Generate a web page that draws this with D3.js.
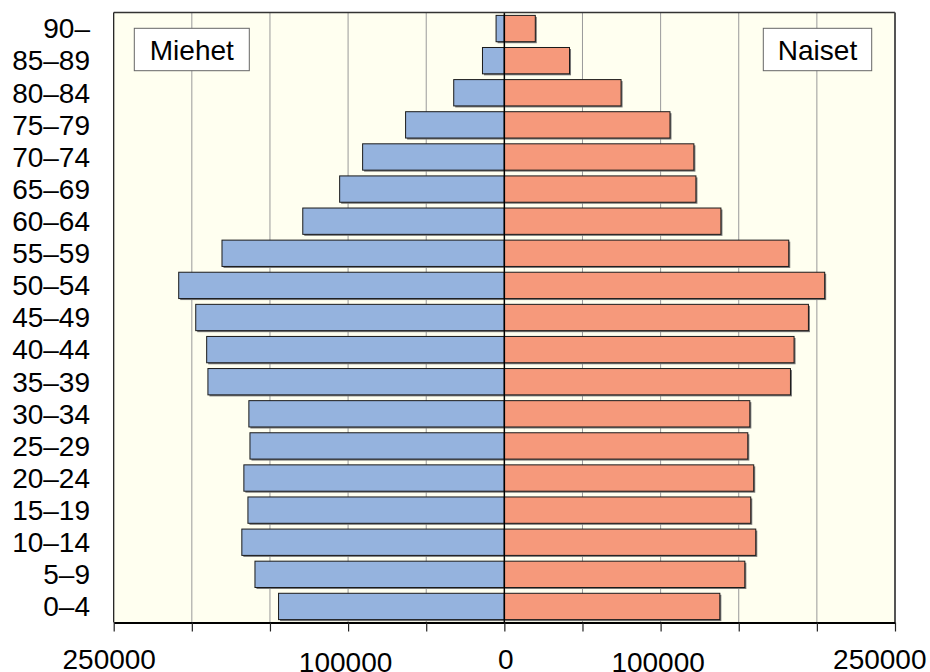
<!DOCTYPE html>
<html>
<head>
<meta charset="utf-8">
<script src="https://cdn.jsdelivr.net/npm/d3@7"></script>
<style>
  html, body { margin: 0; padding: 0; background: #fff; }
  svg { display: block; font-family: "Liberation Sans", Arial, Helvetica, sans-serif; }
</style>
</head>
<body>
<svg id="chart" width="930" height="672"></svg>
<script>
// Data (bottom to top)
const ageGroups = ["0–4","5–9","10–14","15–19","20–24","25–29","30–34","35–39","40–44","45–49","50–54","55–59","60–64","65–69","70–74","75–79","80–84","85–89","90–"];
const males   = [144500,159600,168000,164100,166700,162800,163500,189700,190500,197500,208400,180700,129000,105400,90700,63200,32400,14000,5300];
const females = [137900,153900,160900,157700,159600,155800,157100,183100,185400,194600,205000,182000,138600,122600,121300,106000,74700,41700,19800];
const tickValues = [-250000,-200000,-150000,-100000,-50000,0,50000,100000,150000,200000,250000];
const labeledTicks = [-250000,-100000,0,100000,250000];
const legendLabels = ["Miehet","Naiset"];

(function () {
const pL = 113.7, pR = 895, pT = 12.5, pB = 622.5;
const svg = d3.select("#chart");

const x = d3.scaleLinear().domain([-250000, 250000]).range([pL, pR]);
const y = d3.scaleBand().domain(ageGroups.slice().reverse()).range([pT, pB])
  .paddingInner(0.18).paddingOuter(0.09);

// Background
svg.append("rect").attr("x", pL).attr("y", pT).attr("width", pR - pL).attr("height", pB - pT)
  .attr("fill", "#fffff0");

// Grid lines
svg.append("g").selectAll("line").data(tickValues.filter(v => v !== -250000 && v !== 250000 && v !== 0))
  .join("line")
  .attr("x1", d => x(d)).attr("x2", d => x(d))
  .attr("y1", pT).attr("y2", pB)
  .attr("stroke", "#9a9a9a").attr("stroke-width", 1);

const rows = ageGroups.map((g, i) => ({ g, m: males[i], f: females[i] }));

// Shadows
const shadow = svg.append("g").attr("fill", "#777");
shadow.selectAll("rect.ms").data(rows).join("rect").attr("class", "ms")
  .attr("x", d => x(-d.m) + 1.5).attr("y", d => y(d.g) + 1.5)
  .attr("width", d => x(0) - x(-d.m)).attr("height", y.bandwidth());
shadow.selectAll("rect.fs").data(rows).join("rect").attr("class", "fs")
  .attr("x", d => x(0) + 1.5).attr("y", d => y(d.g) + 1.5)
  .attr("width", d => x(d.f) - x(0)).attr("height", y.bandwidth());

// Bars
svg.append("g").selectAll("rect").data(rows).join("rect")
  .attr("x", d => x(-d.m)).attr("y", d => y(d.g))
  .attr("width", d => x(0) - x(-d.m)).attr("height", y.bandwidth())
  .attr("fill", "#95b3de").attr("stroke", "#1a1a1a").attr("stroke-width", 1);
svg.append("g").selectAll("rect").data(rows).join("rect")
  .attr("x", x(0)).attr("y", d => y(d.g))
  .attr("width", d => x(d.f) - x(0)).attr("height", y.bandwidth())
  .attr("fill", "#f6997b").attr("stroke", "#1a1a1a").attr("stroke-width", 1);

// Center line
svg.append("line").attr("x1", x(0)).attr("x2", x(0)).attr("y1", pT).attr("y2", pB)
  .attr("stroke", "#000").attr("stroke-width", 1.5);

// Frame
svg.append("line").attr("x1", pL).attr("x2", pR).attr("y1", pT).attr("y2", pT).attr("stroke", "#333").attr("stroke-width", 1.5);
svg.append("line").attr("x1", pL).attr("x2", pL).attr("y1", pT).attr("y2", pB).attr("stroke", "#111").attr("stroke-width", 1.2);
svg.append("line").attr("x1", pR).attr("x2", pR).attr("y1", pT).attr("y2", pB).attr("stroke", "#555").attr("stroke-width", 2);

// X axis
const xAxis = d3.axisBottom(x).tickValues(tickValues).tickSize(9).tickSizeOuter(0)
  .tickFormat(d => labeledTicks.includes(d) ? String(Math.abs(d)) : "");
const ax = svg.append("g").attr("transform", `translate(0,${pB})`).call(xAxis);
ax.select(".domain").attr("stroke", "#000").attr("stroke-width", 2);
ax.selectAll(".tick line").attr("stroke", "#222").attr("stroke-width", 1.2);
ax.selectAll(".tick text").attr("font-size", 28).attr("fill", "#000").attr("font-family", null)
  .attr("y", null).attr("dy", null)
  .attr("transform", d => `translate(0,${Math.abs(d) === 100000 ? 49 : 46.5})`)
  .attr("text-anchor", d => d === 250000 ? "end" : "middle")
  .attr("x", d => d === 250000 ? 31 : (d === -250000 ? -5 : (Math.abs(d) === 100000 ? -3 : 1)));

// Y labels
const yAxis = d3.axisLeft(y).tickSize(0).tickPadding(0);
const ay = svg.append("g").attr("transform", "translate(90,0)").call(yAxis);
ay.select(".domain").remove();
ay.selectAll(".tick text").attr("font-size", 28).attr("fill", "#000").attr("font-family", null)
  .attr("x", 0).attr("dy", "0.35em");

// Legend boxes
const legends = [
  { label: legendLabels[0], x0: 134.3, x1: 249.3 },
  { label: legendLabels[1], x0: 763.3, x1: 871.7 }
];
const lg = svg.append("g").selectAll("g").data(legends).join("g");
lg.append("rect").attr("x", d => d.x0).attr("y", 28.3).attr("width", d => d.x1 - d.x0).attr("height", 42.4)
  .attr("fill", "#fff").attr("stroke", "#666").attr("stroke-width", 1);
lg.append("text").attr("x", d => (d.x0 + d.x1) / 2).attr("y", 59.5).attr("text-anchor", "middle")
  .attr("font-size", 28).attr("fill", "#000").text(d => d.label);
})();
</script>
</body>
</html>
